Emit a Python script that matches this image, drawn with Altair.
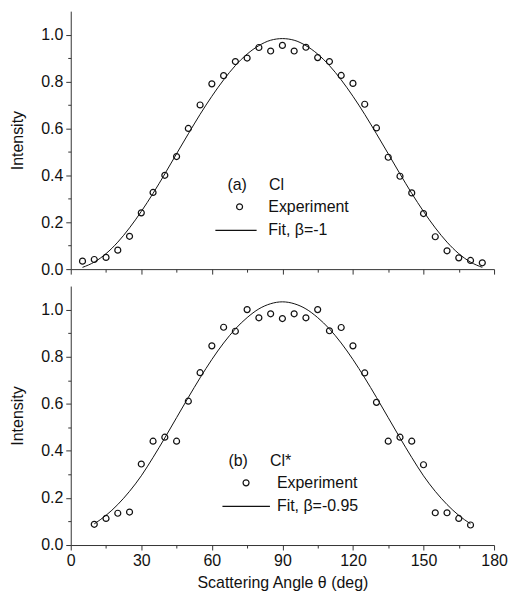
import altair as alt
import pandas as pd

# ---------------- data ----------------
theta_a = [5, 10, 15, 20, 25, 30, 35, 40, 45, 50, 55, 60, 65, 70, 75, 80, 85, 90,
           95, 100, 105, 110, 115, 120, 125, 130, 135, 140, 145, 150, 155, 160, 165, 170, 175]
exp_a = [0.034, 0.041, 0.050, 0.081, 0.140, 0.240, 0.327, 0.400, 0.480, 0.600, 0.700, 0.790,
         0.825, 0.885, 0.900, 0.945, 0.930, 0.954, 0.930, 0.946, 0.902, 0.885, 0.826, 0.792,
         0.703, 0.602, 0.477, 0.396, 0.325, 0.237, 0.138, 0.078, 0.048, 0.037, 0.027]
fit_a = [0.0075, 0.030, 0.066, 0.115, 0.176, 0.246, 0.323, 0.406, 0.492, 0.577, 0.660, 0.737,
         0.807, 0.868, 0.917, 0.953, 0.976, 0.983, 0.976, 0.953, 0.917, 0.868, 0.807, 0.737,
         0.660, 0.577, 0.492, 0.406, 0.323, 0.246, 0.176, 0.115, 0.066, 0.030, 0.0075]

theta_b = [10, 15, 20, 25, 30, 35, 40, 45, 50, 55, 60, 65, 70, 75, 80, 85, 90,
           95, 100, 105, 110, 115, 120, 125, 130, 135, 140, 145, 150, 155, 160, 165, 170]
exp_b = [0.088, 0.113, 0.135, 0.140, 0.344, 0.441, 0.458, 0.441, 0.611, 0.732, 0.846, 0.925,
         0.908, 1.000, 0.965, 0.982, 0.962, 0.982, 0.965, 1.000, 0.910, 0.924, 0.846, 0.731,
         0.606, 0.441, 0.458, 0.441, 0.341, 0.137, 0.137, 0.113, 0.085]
fit_b = [0.090, 0.126, 0.172, 0.228, 0.294, 0.372, 0.455, 0.541, 0.627, 0.710, 0.788, 0.858,
         0.918, 0.966, 1.003, 1.025, 1.033, 1.025, 1.003, 0.966, 0.918, 0.858, 0.788, 0.710,
         0.627, 0.541, 0.455, 0.372, 0.294, 0.228, 0.172, 0.126, 0.090]

x_ticks = [0, 15, 30, 45, 60, 75, 90, 105, 120, 135, 150, 165, 180]
y_ticks = [0.0, 0.1, 0.2, 0.3, 0.4, 0.5, 0.6, 0.7, 0.8, 0.9, 1.0]

FONT = "Liberation Sans"
INK = "#111111"


def panel(theta, exp, fit, exp_label, fit_label, legend_title, lx, ly,
          sym_off, lab_off, line_path, bottom, height):
    df_exp = pd.DataFrame({"theta": theta, "intensity": exp, "series": exp_label})
    df_fit = pd.DataFrame({"theta": theta, "intensity": fit})

    x_axis = alt.Axis(
        values=x_ticks,
        tickSize={"condition": {"test": "datum.value % 30 === 0", "value": 5}, "value": 3},
        labels=bottom,
        labelExpr="datum.value % 30 === 0 ? datum.label : ''",
        labelFlush=False,
        labelOverlap=False,
        labelPadding=3,
        title="Scattering Angle θ (deg)" if bottom else None,
        titlePadding=6,
        grid=False,
    )
    y_axis = alt.Axis(
        values=y_ticks,
        format=".1f",
        tickSize={"condition": {"test": "round(datum.value * 10) % 2 === 0", "value": 5}, "value": 3},
        labelExpr="round(datum.value * 10) % 2 === 0 ? datum.label : ''",
        labelOverlap=False,
        labelFlush=False,
        labelPadding=3,
        title="Intensity",
        titlePadding=15,
        grid=False,
    )
    x = alt.X("theta:Q", scale=alt.Scale(domain=[0, 180], nice=False, zero=False), axis=x_axis)
    y = alt.Y("intensity:Q", scale=alt.Scale(domain=[0, 1.1], nice=False), axis=y_axis)

    line = alt.Chart(df_fit).mark_line(
        color=INK, strokeWidth=1, interpolate="monotone"
    ).encode(x=x, y=y)

    pts = alt.Chart(df_exp).mark_point(
        filled=False, color=INK, size=36, strokeWidth=1.2, opacity=1
    ).encode(
        x=x, y=y,
        shape=alt.Shape(
            "series:N",
            scale=alt.Scale(domain=[exp_label, fit_label], range=["circle", line_path]),
            legend=alt.Legend(
                orient="none", legendX=lx, legendY=ly,
                title=legend_title, titleFont=FONT, titleFontSize=16,
                titleFontWeight="normal", titleColor=INK, titlePadding=6, titleLimit=400,
                labelFont=FONT, labelFontSize=16, labelColor=INK, labelLimit=400,
                symbolSize=36, symbolStrokeWidth=1.2, symbolStrokeColor=INK,
                symbolFillColor="transparent", symbolOffset=sym_off, labelOffset=lab_off,
                rowPadding=7.6, padding=0,
            ),
        ),
    )
    return alt.layer(line, pts).properties(width=425, height=height)


NB = "\u00a0"
top = panel(theta_a, exp_a, fit_a, "Experiment", "Fit, β=-1",
            "(a)" + NB * 5 + "Cl", 157.3, 166.4, 4.2, 20.8, "M-8.1,0H5.7", False, 259)
bot = panel(theta_b, exp_b, fit_b, "Experiment", "Fit, β=-0.95",
            "(b)" + NB * 5 + "Cl*", 158.3, 167.6, 9.7, 23.0, "M-7.9,0H8.0", True, 260)

chart = alt.vconcat(top, bot, spacing=9).resolve_scale(
    shape="independent"
).properties(
    padding={"left": 1, "top": 2, "right": 0, "bottom": 0}
).configure_view(stroke=None).configure_axis(
    labelFont=FONT, labelFontSize=16, labelColor=INK,
    titleFont=FONT, titleFontSize=16, titleFontWeight="normal", titleColor=INK,
    domainColor="#333333", domainWidth=1, tickColor="#333333", tickWidth=1,
)

chart.save("out.html", embed_options={"renderer": "svg", "actions": False})
